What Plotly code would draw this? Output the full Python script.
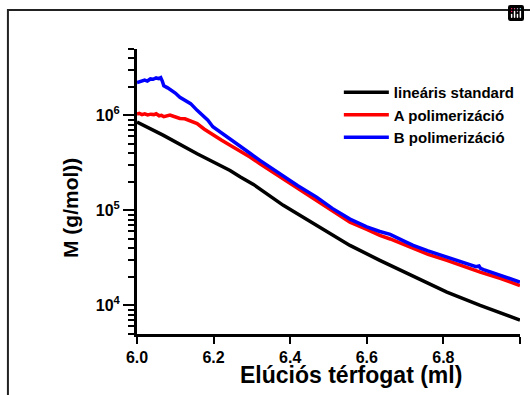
import plotly.graph_objects as go
import math

# ---- data ----
x_black = [6.0, 6.068, 6.157, 6.243, 6.27, 6.285, 6.295, 6.304, 6.382, 6.469, 6.556,
           6.634, 6.661, 6.721, 6.809, 6.896, 6.95, 7.0]
y_black = [8.5e5, 6.2e5, 3.95e5, 2.63e5, 2.25e5, 2.1e5, 2.0e5, 1.88e5, 1.13e5, 6.95e4, 4.28e4,
           2.98e4, 2.64e4, 2.02e4, 1.38e4, 1.0e4, 8.4e3, 7.0e3]

x_red = [6.0, 6.006, 6.013, 6.02, 6.028, 6.036, 6.044, 6.05, 6.058, 6.064, 6.07, 6.078,
         6.086, 6.095, 6.105, 6.112, 6.125, 6.14, 6.157, 6.175, 6.198, 6.22, 6.243, 6.27,
         6.295, 6.321, 6.35, 6.382, 6.42, 6.469, 6.51, 6.556, 6.6, 6.634, 6.661, 6.721,
         6.76, 6.809, 6.85, 6.896, 6.95, 7.0]
y_red = [1.03e6, 1.05e6, 1.02e6, 1.04e6, 1.01e6, 1.03e6, 1.02e6, 1.04e6, 0.99e6, 1.0e6,
         0.97e6, 1.0e6, 1.01e6, 0.98e6, 0.95e6, 0.93e6, 0.92e6, 0.87e6, 0.82e6, 0.72e6,
         0.62e6, 0.55e6, 0.485e6, 0.42e6, 0.364e6, 0.31e6, 0.26e6, 0.215e6, 0.168e6,
         0.127e6, 0.097e6, 0.075e6, 0.063e6, 0.0546e6, 0.050e6, 0.0395e6, 0.0345e6,
         0.0298e6, 0.026e6, 0.0224e6, 0.0192e6, 0.0162e6]

x_blue = [6.0, 6.005, 6.012, 6.02, 6.027, 6.035, 6.042, 6.05, 6.057, 6.062, 6.066, 6.07,
          6.08, 6.09, 6.10, 6.112, 6.125, 6.14, 6.157, 6.17, 6.185, 6.198, 6.22, 6.243,
          6.27, 6.295, 6.321, 6.35, 6.382, 6.42, 6.469, 6.51, 6.556, 6.6, 6.634, 6.661,
          6.7, 6.721, 6.76, 6.809, 6.85, 6.885, 6.893, 6.897, 6.905, 6.95, 7.0]
y_blue = [2.22e6, 2.25e6, 2.28e6, 2.35e6, 2.30e6, 2.42e6, 2.40e6, 2.48e6, 2.44e6, 2.50e6,
          2.30e6, 2.05e6, 1.95e6, 1.85e6, 1.72e6, 1.55e6, 1.43e6, 1.33e6, 1.13e6, 1.02e6,
          8.9e5, 7.6e5, 6.6e5, 5.7e5, 4.7e5, 4.0e5, 3.36e5, 2.8e5, 2.33e5, 1.82e5, 1.38e5,
          1.05e5, 8.1e4, 6.7e4, 6.0e4, 5.6e4, 4.7e4, 4.28e4, 3.75e4, 3.22e4, 2.85e4,
          2.55e4, 2.6e4, 2.45e4, 2.38e4, 2.05e4, 1.76e4]

series_names = ["lineáris standard", "A polimerizáció", "B polimerizáció"]
x_tickvals = [6.0, 6.2, 6.4, 6.6, 6.8, 7.0]
x_ticktext = ["6.0", "6.2", "6.4", "6.6", "6.8", "7.0"]
y_tickvals = [1e4, 1e5, 1e6]
y_ticktext = ["10<sup>4</sup>", "10<sup>5</sup>", "10<sup>6</sup>"]
x_title = "Elúciós térfogat (ml)"
y_title = "M (g/mol))"

FONT = "Liberation Sans, Arial, sans-serif"

fig = go.Figure()
for xs, ys, name, col in [(x_black, y_black, series_names[0], "black"),
                          (x_red, y_red, series_names[1], "#ff0000"),
                          (x_blue, y_blue, series_names[2], "#0000ff")]:
    fig.add_trace(go.Scatter(x=xs, y=ys, mode="lines", name=name,
                             line=dict(color=col, width=3.5)))

minor_y = [m * 10 ** e for e in range(3, 7) for m in range(2, 10)
           if 5000 <= m * 10 ** e <= 5e6]

fig.update_layout(
    width=530, height=395, autosize=False,
    margin=dict(l=137, r=10, t=49, b=61),
    paper_bgcolor="white", plot_bgcolor="white",
    font=dict(family=FONT, size=16, color="black"),
    modebar=dict(bgcolor="rgba(0,0,0,0)", color="rgba(0,0,0,0)",
                 activecolor="rgba(0,0,0,0)"),
    showlegend=True,
    legend=dict(x=0.527, y=0.905, xanchor="left", yanchor="top",
                bgcolor="rgba(0,0,0,0)", borderwidth=0,
                font=dict(family=FONT, size=15, color="black", weight="bold"),
                itemwidth=45, tracegroupgap=0),
    xaxis=dict(range=[6.0, 7.0], tickmode="array", tickvals=x_tickvals, ticktext=x_ticktext,
               showline=True, linewidth=3, linecolor="black",
               ticks="outside", ticklen=7, tickwidth=2, tickcolor="#000000",
               showgrid=False, zeroline=False,
               tickfont=dict(family=FONT, size=16, weight="bold")),
    yaxis=dict(type="log", range=[math.log10(5000), math.log10(5e6)],
               tickmode="array", tickvals=y_tickvals, ticktext=y_ticktext,
               showline=True, linewidth=3, linecolor="black",
               ticks="outside", ticklen=11, tickwidth=2, tickcolor="#000000",
               showgrid=False, zeroline=False,
               tickfont=dict(family=FONT, size=16, weight="bold"),
               minor=dict(ticks="outside", tickmode="array", tickvals=minor_y,
                          ticklen=6, tickwidth=2, tickcolor="#000000", showgrid=False)),
)

fig.add_annotation(text=x_title, xref="paper", yref="paper", x=0.559, y=-0.145,
                   xanchor="center", yanchor="middle", showarrow=False,
                   font=dict(family=FONT, size=23, weight="bold"))
fig.add_annotation(text=y_title, xref="paper", yref="paper", x=-0.175, y=0.442,
                   xanchor="center", yanchor="middle", showarrow=False, textangle=-90,
                   font=dict(family=FONT, size=21, weight="bold"))

# outer frame
fig.add_shape(type="rect", xref="paper", yref="paper",
              x0=-0.337, x1=1.06, y0=-0.26, y1=1.137,
              line=dict(color="#222222", width=2), fillcolor="rgba(0,0,0,0)")

fig.write_html("out.html", config={"responsive": False},
               post_script="document.body.style.margin='0';"
                           "document.body.style.overflow='hidden';"
                           "document.documentElement.style.overflow='hidden';")
